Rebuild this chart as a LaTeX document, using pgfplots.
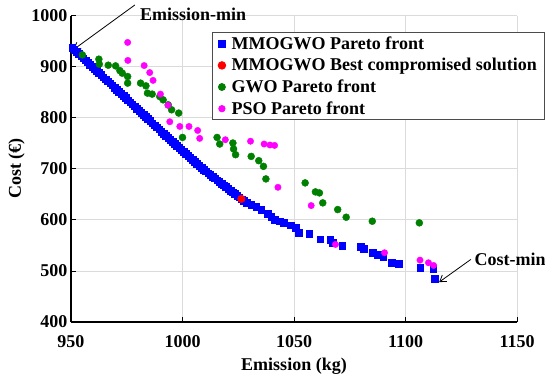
\documentclass[border=0pt]{standalone}
\usepackage{fontspec}
\setmainfont{Liberation Serif}
\usepackage{pgfplots}
\pgfplotsset{compat=1.18}
\usetikzlibrary{arrows.meta}
\newcommand\bigfont{\fontsize{18}{21}\selectfont\bfseries}
\definecolor{mblue}{RGB}{0,0,255}
\definecolor{mred}{RGB}{255,0,0}
\definecolor{mgreen}{RGB}{0,128,0}
\definecolor{mmag}{RGB}{255,0,255}
\begin{document}
\begin{tikzpicture}
\path[use as bounding box] (-71pt,-52pt) rectangle (474pt,322pt);
\begin{axis}[
 at={(0pt,0pt)}, anchor=south west,
 scale only axis, width=446pt, height=306.5pt,
 xmin=950, xmax=1150, ymin=400, ymax=1000,
 xtick={950,1000,...,1150}, ytick={400,500,...,1000},
 axis x line*=bottom, axis y line*=left,
 tick align=inside, major tick length=5pt,
 grid=major, grid style={black!14, line width=0.8pt},
 axis line style={line width=1.1pt, black},
 tick style={line width=0.8pt, black},
 ticklabel style={font=\bigfont},
 xticklabel style={yshift=-10pt},
 /pgf/number format/assume math mode=true,
 /pgf/number format/1000 sep={},
 xlabel={Emission (kg)}, ylabel={Cost (€)}, label style={font=\bigfont},
 xlabel style={yshift=-3pt},
 clip=false,
 legend image code/.code={\draw[#1] plot coordinates {(0pt,0pt)};},
 legend style={at={(0.3155,0.945)}, anchor=north west, font=\bigfont, draw=black!70, line width=0.8pt,
   inner xsep=6pt, inner ysep=2pt, row sep=3.5pt, column sep=4pt},
 legend cell align=left,
]
\addplot[only marks, mark=square*, mark size=3.3pt, draw=mblue, fill=mblue] coordinates {
(950.5,937.0) (951.5,932.9) (952.5,928.8) (953.5,924.7) (954.5,920.6) (955.5,916.5)
(956.5,912.4) (957.5,908.3) (958.5,904.2) (959.5,900.1) (960.5,896.0) (961.5,891.9)
(962.5,887.8) (963.5,883.7) (964.5,879.6) (965.5,875.5) (966.5,871.4) (967.5,867.3)
(968.5,863.2) (969.5,859.1) (970.5,855.0) (971.5,850.9) (972.5,846.8) (973.5,842.7)
(974.5,838.6) (975.5,834.5) (976.5,830.4) (977.5,826.3) (978.5,822.2) (979.5,818.1)
(980.5,814.0) (981.5,809.9) (982.5,805.8) (983.5,801.7) (984.5,797.6) (985.5,793.5)
(986.5,789.4) (987.5,785.3) (988.5,781.2) (989.5,777.1) (990.5,773.1) (991.5,769.2)
(992.5,765.2) (993.5,761.3) (994.5,757.3) (995.5,753.3) (996.5,749.4) (997.5,745.4)
(998.5,741.5) (999.5,737.5) (1000.5,733.5) (1001.5,729.6) (1002.5,725.6) (1003.5,721.7)
(1004.5,717.7) (1005.5,713.7) (1006.5,709.8) (1007.5,705.8) (1008.5,701.9) (1009.5,698.3)
(1010.5,694.9) (1011.5,691.5) (1012.5,688.1) (1013.5,684.7) (1014.5,681.3) (1015.5,677.9)
(1016.5,674.5) (1017.5,671.2) (1018.5,667.8) (1019.5,664.4) (1020.5,661.0) (1021.5,657.6)
(1022.5,654.2) (1023.5,650.8) (1024.5,647.4) (1025.5,644.0) (1026.5,640.6) (1027.5,637.5)
(1028.8,634.0) (1030.8,629.9) (1033.1,625.4) (1035.3,620.1) (1038.3,612.3) (1039.8,605.9)
(1041.3,600.6) (1043.5,597.3) (1045.4,594.1) (1048.4,589.5) (1050.8,584.4) (1052.1,575.2)
(1056.9,573.2) (1061.7,562.1) (1066.3,561.5) (1067.4,555.1) (1071.7,549.8) (1079.8,547.9)
(1081.2,543.9) (1085.3,535.6) (1087.5,531.3) (1090.0,528.3) (1093.9,516.6) (1096.9,514.1)
(1106.5,506.8) (1112.4,504.3) (1113.2,484.8)
};
\addlegendentry{MMOGWO Pareto front}
\addplot[only marks, mark=*, mark size=3.8pt, draw=mred, fill=mred] coordinates {(1026.4,641.0)};
\addlegendentry{MMOGWO Best compromised solution}
\addplot[only marks, mark=*, mark size=3.5pt, draw=mgreen, fill=mgreen] coordinates {
(955.1,922.9) (962.5,914.5) (962.7,904.7) (966.7,902.7) (970.0,901.4) (971.9,892.2)
(973.0,887.1) (975.4,880.5) (975.4,867.6) (981.2,867.6) (983.6,862.3) (984.3,848.0)
(986.4,846.1) (989.8,841.4) (991.3,834.9) (993.6,825.2) (995.1,815.4) (998.3,809.0)
(1000.0,761.3) (1015.5,761.3) (1016.7,748.4) (1022.6,750.4) (1022.9,738.7) (1023.8,727.5)
(1030.8,724.2) (1034.2,715.8) (1036.3,704.7) (1037.4,680.1) (1055.0,672.3) (1059.6,654.7)
(1061.4,652.7) (1062.9,633.2) (1069.6,620.1) (1073.4,605.1) (1085.1,597.3) (1106.2,594.1)
};
\addlegendentry{GWO Pareto front}
\addplot[only marks, mark=*, mark size=3.2pt, draw=mmag, fill=mmag] coordinates {
(975.4,947.3) (975.5,912.1) (982.8,902.0) (985.3,888.3) (986.8,873.0) (990.1,846.1)
(993.5,824.2) (994.3,792.0) (998.8,782.8) (1002.9,782.8) (1006.8,775.0) (1007.7,759.4)
(1019.2,756.8) (1030.5,753.9) (1036.6,748.4) (1039.2,746.5) (1041.3,745.7) (1042.8,663.7)
(1057.7,627.9) (1068.6,551.8) (1090.6,535.6) (1106.5,521.1) (1110.3,516.0) (1112.6,510.7)
};
\addlegendentry{PSO Pareto front}
\draw[line width=0.8pt, -{Straight Barb[length=6pt,width=8pt]}] (axis cs:978.6,1020.5) -- (axis cs:951.2,933.5);
\node[anchor=west, font=\bigfont, inner sep=1pt] at (axis cs:980.5,1003) {Emission-min};
\draw[line width=0.8pt, -{Straight Barb[length=6pt,width=8pt]}] (axis cs:1129.3,522.5) -- (axis cs:1115.1,478.1);
\node[anchor=west, font=\bigfont, inner sep=1pt] at (axis cs:1130.5,522.5) {Cost-min};
\end{axis}
\end{tikzpicture}
\end{document}
